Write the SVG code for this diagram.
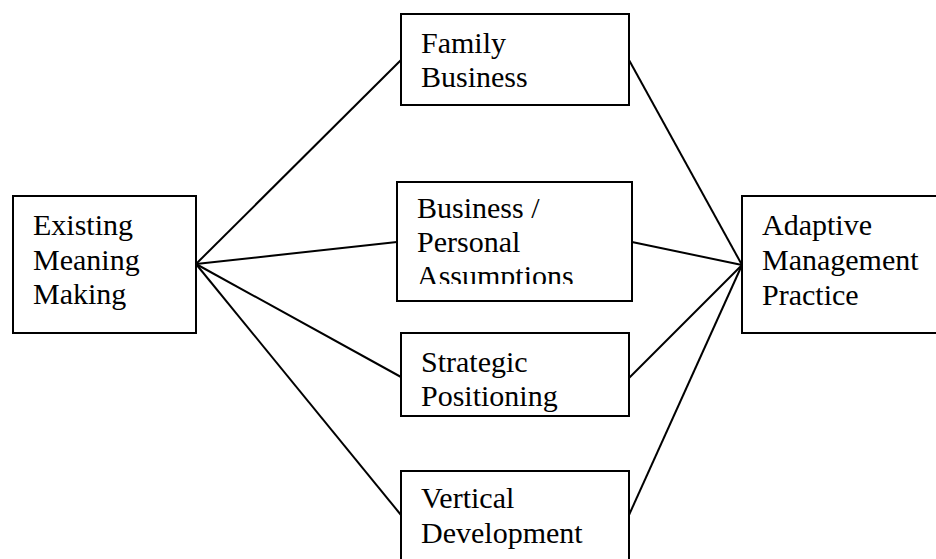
<svg xmlns="http://www.w3.org/2000/svg" width="936" height="559" viewBox="0 0 936 559">
<style>
.box{fill:#fff;stroke:#000;stroke-width:2}
.con{stroke:#000;stroke-width:2;fill:none}
</style>
<defs>
<clipPath id="clipBP"><rect x="397" y="182" width="235" height="102"/></clipPath>
</defs>
<rect width="936" height="559" fill="#fff"/>
<g id="connectors">
<line class="con" x1="196" y1="264" x2="401" y2="60"/>
<line class="con" x1="196" y1="264" x2="397" y2="242"/>
<line class="con" x1="196" y1="264" x2="401" y2="377"/>
<line class="con" x1="196" y1="264" x2="401" y2="515"/>
<line class="con" x1="629" y1="60" x2="742" y2="265"/>
<line class="con" x1="632" y1="242" x2="742" y2="265"/>
<line class="con" x1="629" y1="378" x2="742" y2="265"/>
<line class="con" x1="629" y1="515" x2="742" y2="265"/>
</g>
<g font-family="Liberation Serif" font-size="30" fill="#000">
<g id="existing">
<rect class="box" x="13" y="196" width="183" height="137"/>
<text x="33" y="235">Existing</text>
<text x="33" y="270">Meaning</text>
<text x="33" y="304">Making</text>
</g>
<g id="family">
<rect class="box" x="401" y="14" width="228" height="91"/>
<text x="421" y="53">Family</text>
<text x="421" y="87">Business</text>
</g>
<g id="assumptions">
<rect class="box" x="397" y="182" width="235" height="119"/>
<g clip-path="url(#clipBP)">
<text x="417" y="218">Business /</text>
<text x="417" y="252">Personal</text>
<text x="417" y="286">Assumptions</text>
</g>
</g>
<g id="strategic">
<rect class="box" x="401" y="333" width="228" height="83"/>
<text x="421" y="372">Strategic</text>
<text x="421" y="406">Positioning</text>
</g>
<g id="vertical">
<rect class="box" x="401" y="471" width="228" height="100"/>
<text x="421" y="508">Vertical</text>
<text x="421" y="543">Development</text>
</g>
<g id="adaptive">
<rect class="box" x="742" y="196" width="210" height="137"/>
<text x="762" y="235">Adaptive</text>
<text x="762" y="270">Management</text>
<text x="762" y="305">Practice</text>
</g>
</g>
</svg>
